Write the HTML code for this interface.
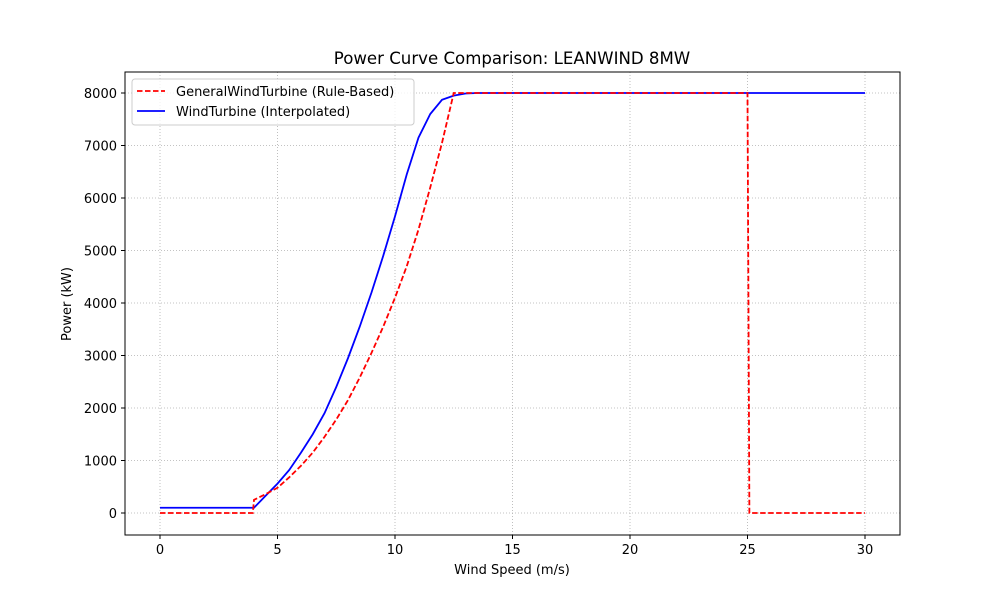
<!DOCTYPE html>
<html><head><meta charset="utf-8"><style>
body{margin:0;background:#fff}
svg text{font-family:"DejaVu Sans","Liberation Sans",sans-serif;fill:#000}
</style></head><body>
<svg id="chart" width="1000" height="600" xmlns="http://www.w3.org/2000/svg">
<rect width="1000" height="600" fill="#fff"/>
<g id="grid"></g>
<g id="ticks"></g>
<g id="lines"></g>
<rect x="125" y="72" width="775" height="463" fill="none" stroke="#000" stroke-width="1"/>
<text x="512" y="64" font-size="16.6" text-anchor="middle">Power Curve Comparison: LEANWIND 8MW</text>
<text x="512" y="574" font-size="13" text-anchor="middle">Wind Speed (m/s)</text>
<text transform="translate(71,304) rotate(-90)" font-size="13" text-anchor="middle">Power (kW)</text>
<g>
<rect x="132" y="79" width="282" height="46" rx="3" fill="#fff" fill-opacity="0.8" stroke="#ccc"/>
<line x1="137" y1="91" x2="165" y2="91" stroke="red" stroke-width="1.8" stroke-dasharray="5.5,2.5"/>
<text x="176" y="96" font-size="13">GeneralWindTurbine (Rule-Based)</text>
<line x1="137" y1="111" x2="165" y2="111" stroke="blue" stroke-width="1.8"/>
<text x="176" y="116" font-size="13">WindTurbine (Interpolated)</text>
</g>
</svg>
<script>
const xTicks=[0,5,10,15,20,25,30];
const yTicks=[0,1000,2000,3000,4000,5000,6000,7000,8000];
const redX=[0,3.95,4,4.5,5,5.5,6,6.5,7,7.5,8,8.5,9,9.5,10,10.5,11,11.5,12,12.5,25,25.08,30];
const redY=[0,0,250,360,480,680,900,1150,1450,1780,2150,2580,3050,3550,4100,4700,5400,6200,7050,8000,8000,0,0];
const blueX=[0,4,4.5,5,5.5,6,6.5,7,7.5,8,8.5,9,9.5,10,10.5,11,11.5,12,12.5,13,13.5,30];
const blueY=[100,100,330,560,820,1150,1500,1900,2400,2950,3550,4200,4900,5650,6450,7150,7600,7870,7950,7990,8000,8000];
const NS='http://www.w3.org/2000/svg';
const sx=v=>160+v*23.5, sy=v=>513-v*0.0525;
function mk(tag,attrs,parent){const e=document.createElementNS(NS,tag);for(const k in attrs)e.setAttribute(k,attrs[k]);parent.appendChild(e);return e;}
const grid=document.getElementById('grid'),ticks=document.getElementById('ticks'),lines=document.getElementById('lines');
xTicks.forEach(t=>{const x=sx(t);
const g=mk('line',{x1:x,x2:x,y1:72,y2:535,stroke:'#b0b0b0','stroke-width':0.8,'stroke-dasharray':'1,2'},grid);


mk('line',{x1:x,x2:x,y1:535,y2:539,stroke:'#000'},ticks);
const tx=mk('text',{x:x,y:554,'font-size':13,'text-anchor':'middle'},ticks);tx.textContent=t;

});
yTicks.forEach(t=>{const y=sy(t);
const g=mk('line',{x1:125,x2:900,y1:y,y2:y,stroke:'#b0b0b0','stroke-width':0.8,'stroke-dasharray':'1,2'},grid);


mk('line',{x1:121,x2:125,y1:y,y2:y,stroke:'#000'},ticks);
const tx=mk('text',{x:117,y:y+5,'font-size':13,'text-anchor':'end'},ticks);tx.textContent=t;

});
function pts(xs,ys){return xs.map((v,i)=>sx(v)+','+sy(ys[i])).join(' ');}
const b=mk('polyline',{points:pts(blueX,blueY),fill:'none',stroke:'blue','stroke-width':1.8},lines);


const r=mk('polyline',{points:pts(redX,redY),fill:'none',stroke:'red','stroke-width':1.8,'stroke-dasharray':'5.5,2.5'},lines);


</script>
</body></html>
